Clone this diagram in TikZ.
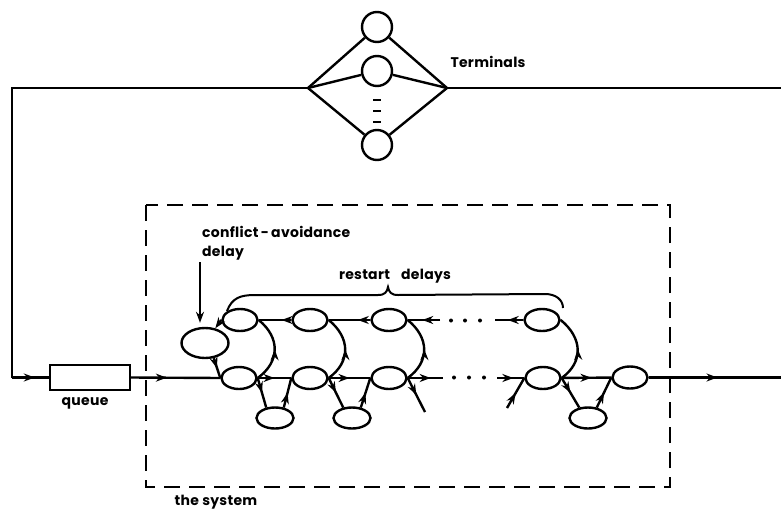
\documentclass[tikz,border=0pt]{standalone}
\usepackage{fontspec}
\setmainfont{Poppins}[LetterSpace=2]
\usetikzlibrary{arrows.meta,decorations.markings,shapes.geometric}

\tikzset{
  line/.style={line width=2.4pt},
  tip/.style={-{Stealth[length=11pt,width=8pt]}},
  midarrow/.style={postaction={decorate},
    decoration={markings,mark=at position #1 with {\arrow{Stealth[length=11pt,width=8pt]}}}},
  midarrow/.default=0.5,
  ell/.style={ellipse,draw,line width=2.4pt,minimum width=35pt,minimum height=22pt,inner sep=0pt},
  lowell/.style={ell,minimum width=37pt,minimum height=21pt},
  term/.style={circle,draw,line width=2.4pt,minimum size=30pt,inner sep=0pt},
  lbl/.style={font=\bfseries\fontsize{14}{16}\selectfont,inner sep=0pt},
  sysbox/.style={line width=2.5pt,dash pattern=on 16pt off 9pt},
}

\begin{document}
\begin{tikzpicture}[x=1pt,y=-1pt]
\useasboundingbox (0,0) rectangle (781,514);

% ---------- terminals ----------
\coordinate (v1) at (308,88);
\coordinate (v2) at (447,88);
\node[term] (tc1) at (377,27) {};
\node[term] (tc2) at (377,71) {};
\node[term] (tc3) at (377,145) {};
\foreach \c in {tc1,tc2,tc3}{
  \draw[line] (v1) -- (\c) -- (v2);
}
\foreach \yy in {100,111,122}{
  \draw[line width=2.8pt] (373,\yy) -- (381,\yy);
}
\node[lbl] (termlabel) at (488,62) {Terminals};

% ---------- outer loop ----------
\coordinate (cTL) at (12,88);
\coordinate (cBL) at (12,377.5);
\coordinate (eTop) at (781,88);
\coordinate (eOut) at (781,377.5);
\draw[line] (v1) -- (cTL) -- (cBL);
\draw[line] (v2) -- (eTop);

% ---------- queue ----------
\node[draw,line width=2.4pt,minimum width=80pt,minimum height=25pt,inner sep=0pt] (Q) at (90,377.5) {};
\node[lbl] (qlabel) at (85,403) {queue};
\draw[line,midarrow=0.62] (cBL) -- (Q.west);

% ---------- the system ----------
\draw[sysbox] (146,205) rectangle (670,487);
\node[lbl] (syslabel) at (216,502) {the system};

% delay stations
\node[ell,minimum width=47pt,minimum height=30pt] (C) at (205,343) {};
\node[ell] (T1) at (240,320) {};
\node[ell] (T2) at (310,320) {};
\node[ell] (T3) at (389,320) {};
\node[ell] (T4) at (542,320) {};
\node[ell] (B1) at (239,378) {};
\node[ell] (B2) at (310,378) {};
\node[ell] (B3) at (389,378) {};
\node[ell] (B4) at (543,378) {};
\node[ell] (R)  at (630,377.5) {};
\node[lowell] (L1) at (275,418) {};
\node[lowell] (L2) at (352,418) {};
\node[lowell] (L3) at (588,418) {};

% free ends of the broken chain
\coordinate (te1) at (440,320);
\coordinate (te2) at (495,320);
\coordinate (be1) at (443,378);
\coordinate (be2) at (497,378);
\coordinate (dg1) at (425,412);
\coordinate (dg2) at (507,408);

% input into the system
\draw[line,midarrow=0.4] (Q.east) -- (B1.west);

% forward chain
\draw[line,midarrow] (B1) -- (B2);
\draw[line,midarrow] (B2) -- (B3);
\draw[line,midarrow=0.65] (B3) -- (be1);
\draw[line,midarrow=0.6] (be2) -- (B4);
\draw[line,midarrow=0.6] (B4) -- (R);
\draw[line,midarrow=0.52] (R) -- (eOut);

% restart chain
\draw[line,midarrow=0.3] (T2) -- (T1);
\draw[line,midarrow=0.3] (T3) -- (T2);
\draw[line,midarrow=0.55] (te1) -- (T3);
\draw[line,midarrow=0.55] (T4) -- (te2);

% dots
\foreach \xx in {451,465,480}{ \fill (\xx,320.5) circle (2pt); }
\foreach \xx in {454,469,484}{ \fill (\xx,377.5) circle (2pt); }

% restart arcs
\draw[line,midarrow] (B1.east) .. controls +(22,-16) and +(22,18) .. (T1.east);
\draw[line,midarrow] (B2.east) .. controls +(22,-16) and +(22,18) .. (T2.east);
\draw[line,midarrow] (B3.east) .. controls +(22,-16) and +(22,18) .. (T3.east);
\draw[line,midarrow] (B4.east) .. controls +(22,-16) and +(22,18) .. (T4.east);

% conflict-avoidance delay
\draw[line,tip] (T1.west) -- (C.55);
\draw[line,midarrow] (C.-60) -- (B1.west);

% side loops through the lower stations
\draw[line,midarrow] (B1.east) -- (L1.130);
\draw[line,midarrow] (L1.50) -- (B2.west);
\draw[line,midarrow] (B2.east) -- (L2.130);
\draw[line,midarrow] (L2.50) -- (B3.west);
\draw[line,midarrow] (B4.east) -- (L3.130);
\draw[line,midarrow] (L3.50) -- (R.west);
\draw[line,midarrow] (B3.east) -- (dg1);
\draw[line,midarrow] (dg2) -- (B4.west);

% labels inside the system
\node[lbl,anchor=west] (calabel) at (202,232) {conflict\,-\,avoidance};
\node[lbl,anchor=west] (dlabel) at (202,253) {delay};
\coordinate (ca1) at (200,262);
\draw[line,tip,shorten >=4pt] (ca1) -- (C.north -| ca1);

\node[lbl] (rlabel) at (395,276) {restart\hspace{0.8em}delays};
\draw[line width=2pt] (227,311) .. controls (232,298) and (240,295) .. (255,295)
  -- (378,295) .. controls (385,295) and (387,292) .. (388,287)
  .. controls (389,292) and (391,295) .. (398,295)
  -- (545,294) .. controls (556,294) and (563,300) .. (563,308);
\end{tikzpicture}
\end{document}
